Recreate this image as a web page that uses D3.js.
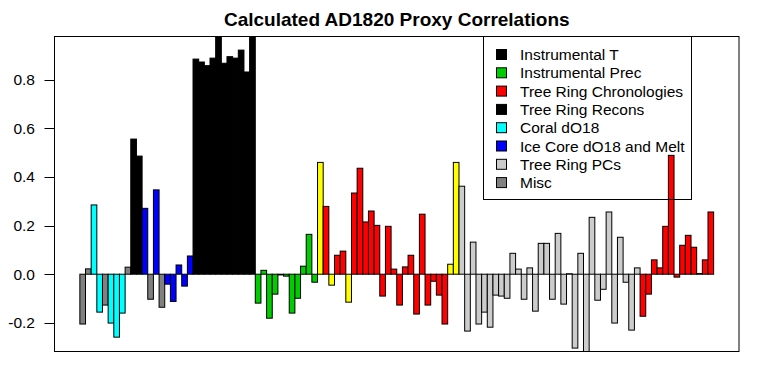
<!DOCTYPE html>
<html>
<head>
<meta charset="utf-8">
<script src="https://cdn.jsdelivr.net/npm/d3@7"></script>
<style>
  body { margin: 0; background: #fff; }
  text { font-family: "Liberation Sans", Arial, sans-serif; }
</style>
</head>
<body>
<svg id="chart" width="757" height="387"></svg>
<script>
// legend entries, in the order they are listed
const legendLabels = [
  "Instrumental T", "Instrumental Prec", "Tree Ring Chronologies", "Tree Ring Recons",
  "Coral dO18", "Ice Core dO18 and Melt", "Tree Ring PCs", "Misc"
];
// "Other" is the unlabelled yellow bars
const legendKeys = ["InstT", "InstP", "TRChron", "TRRecon", "Coral", "Ice", "TRPC", "Misc"];

// one correlation per proxy, left to right
const values = [
  -0.205, 0.022, 0.285, -0.156, -0.127, -0.201, -0.259, -0.160, 0.029, 0.556,
  0.486, 0.271, -0.103, 0.347, -0.136, -0.041, -0.112, 0.038, -0.049, 0.075,
  0.885, 0.873, 0.858, 0.889, 0.978, 0.868, 0.895, 0.889, 0.922, 0.832,
  0.978, -0.119, 0.016, -0.181, -0.082, -0.003, -0.008, -0.160, -0.099, 0.033,
  0.164, -0.033, 0.460, 0.279, -0.045, 0.078, 0.095, -0.115, 0.334, 0.436,
  0.215, 0.260, 0.201, -0.090, 0.197, 0.021, -0.127, 0.030, 0.078, -0.164,
  0.247, -0.127, -0.029, -0.086, -0.205, 0.041, 0.460, 0.362, -0.234, 0.132,
  -0.205, -0.156, -0.218, -0.086, -0.090, -0.099, 0.086, 0.021, -0.103, 0.026,
  -0.152, 0.127, 0.127, -0.103, 0.168, -0.123, 0.002, -0.304, 0.086, -0.318,
  0.234, -0.107, -0.062, 0.256, -0.201, 0.152, -0.033, -0.230, 0.026, -0.173,
  -0.082, 0.059, 0.026, 0.197, 0.489, -0.012, 0.119, 0.160, 0.111, 0.003,
  0.059, 0.256
];

// proxy type of each bar
const groups = [
  "Misc", "Misc", "Coral", "Coral", "Misc", "Coral", "Coral", "Coral", "Misc", "TRRecon",
  "TRRecon", "Ice", "Misc", "Ice", "Misc", "Ice", "Ice", "Ice", "Ice", "Ice",
  "InstT", "InstT", "InstT", "InstT", "InstT", "InstT", "InstT", "InstT", "InstT", "InstT",
  "InstT", "InstP", "InstP", "InstP", "InstP", "InstP", "InstP", "InstP", "InstP", "InstP",
  "InstP", "InstP", "Other", "TRChron", "Other", "TRChron", "TRChron", "Other", "TRChron", "TRChron",
  "TRChron", "TRChron", "TRChron", "TRChron", "TRChron", "TRChron", "TRChron", "TRChron", "TRChron", "TRChron",
  "TRChron", "TRChron", "TRChron", "TRChron", "TRChron", "Other", "Other", "TRPC", "TRPC", "TRPC",
  "TRPC", "TRPC", "TRPC", "TRPC", "TRPC", "TRPC", "TRPC", "TRPC", "TRPC", "TRPC",
  "TRPC", "TRPC", "TRPC", "TRPC", "TRPC", "TRPC", "TRPC", "TRPC", "TRPC", "TRPC",
  "TRPC", "TRPC", "TRPC", "TRPC", "TRPC", "TRPC", "TRPC", "TRPC", "TRPC", "TRChron",
  "TRChron", "TRChron", "TRChron", "TRChron", "TRChron", "TRChron", "TRChron", "TRChron", "TRChron", "TRChron",
  "TRChron", "TRChron"
];

const yTicks = [-0.2, 0.0, 0.2, 0.4, 0.6, 0.8];
const yTickLabels = ["-0.2", "0.0", "0.2", "0.4", "0.6", "0.8"];
const yRange = [-0.318, 0.978];

const fills = {
  InstT: "#000000", InstP: "#00cd00", TRChron: "#ff0000", TRRecon: "#000000",
  Coral: "#00ffff", Ice: "#0000ff", TRPC: "#cccccc", Misc: "#808080", Other: "#ffff00"
};

const svg = d3.select("#chart");
const plot = { left: 54.5, right: 739, top: 36.5, bottom: 351.5 };
const n = values.length;

// R barplot style: no gaps, 4% of the range padded at each end
const x = d3.scaleBand()
  .domain(d3.range(n))
  .range([plot.left, plot.right])
  .paddingInner(0)
  .paddingOuter(0.04 * n);

const y = d3.scaleLinear().domain(yRange).range([plot.bottom, plot.top]);

svg.append("clipPath").attr("id", "clip")
  .append("rect")
  .attr("x", plot.left).attr("y", plot.top)
  .attr("width", plot.right - plot.left).attr("height", plot.bottom - plot.top);

svg.append("g")
  .attr("clip-path", "url(#clip)")
  .selectAll("rect")
  .data(values)
  .join("rect")
  .attr("x", (d, i) => x(i))
  .attr("width", x.bandwidth())
  .attr("y", d => y(Math.max(0, d)))
  .attr("height", d => Math.abs(y(d) - y(0)))
  .attr("fill", (d, i) => fills[groups[i]])
  .attr("stroke", "#000")
  .attr("stroke-width", 1);

// y axis
const ax = svg.append("g");
ax.selectAll("line")
  .data(yTicks)
  .join("line")
  .attr("x1", plot.left - 10).attr("x2", plot.left)
  .attr("y1", d => Math.round(y(d)) + 0.5).attr("y2", d => Math.round(y(d)) + 0.5)
  .attr("stroke", "#000");
ax.selectAll("text")
  .data(yTicks)
  .join("text")
  .attr("x", 35)
  .attr("y", d => y(d) + 5.5)
  .attr("text-anchor", "end")
  .attr("font-size", 15.5)
  .text((d, i) => yTickLabels[i]);

// plot frame
svg.append("rect")
  .attr("x", plot.left).attr("y", plot.top)
  .attr("width", plot.right - plot.left).attr("height", plot.bottom - plot.top)
  .attr("fill", "none").attr("stroke", "#000");

svg.append("text")
  .attr("x", (plot.left + plot.right) / 2)
  .attr("y", 26)
  .attr("text-anchor", "middle")
  .attr("font-size", 19)
  .attr("font-weight", "bold")
  .text("Calculated AD1820 Proxy Correlations");

// legend, transparent box so the tall red bar shows through
const lg = svg.append("g");
lg.append("rect")
  .attr("x", 483.5).attr("y", 36.5)
  .attr("width", 208).attr("height", 163)
  .attr("fill", "none").attr("stroke", "#000");
const rows = lg.selectAll("g.row")
  .data(legendLabels)
  .join("g")
  .attr("class", "row")
  .attr("transform", (d, i) => `translate(0,${54.5 + i * 18.3})`);
rows.append("rect")
  .attr("x", 496.5).attr("y", -5)
  .attr("width", 10).attr("height", 10)
  .attr("fill", (d, i) => fills[legendKeys[i]])
  .attr("stroke", "#000");
rows.append("text")
  .attr("x", 520)
  .attr("y", 5.5)
  .attr("font-size", 15.5)
  .text(d => d);
</script>
</body>
</html>
